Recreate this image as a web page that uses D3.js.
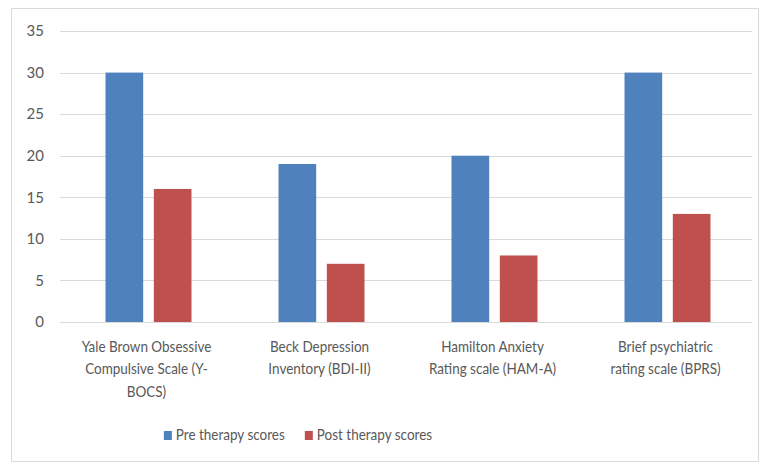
<!DOCTYPE html>
<html>
<head>
<meta charset="utf-8">
<script src="https://cdn.jsdelivr.net/npm/d3@7"></script>
<style>
  body { margin: 0; background: #fff; }
  text { font-family: Lato, "Liberation Sans", Arial, sans-serif; fill: #595959; }
</style>
</head>
<body>
<svg id="chart"></svg>
<script>
// data
const categories = ["Y-BOCS", "BDI-II", "HAM-A", "BPRS"];
const categoryLines = [
    ["Yale Brown Obsessive", "Compulsive Scale (Y-", "BOCS)"],
    ["Beck Depression", "Inventory (BDI-II)"],
    ["Hamilton Anxiety", "Rating scale (HAM-A)"],
    ["Brief psychiatric", "rating scale (BPRS)"]
];
const seriesNames = ["Pre therapy scores", "Post therapy scores"];
const preScores = [30, 19, 20, 30];
const postScores = [16, 7, 8, 13];
const yTicks = [0, 5, 10, 15, 20, 25, 30, 35];

const width = 759, height = 462;
const margin = { top: 31, right: 7, bottom: 140, left: 60 };
const colors = ["#4f81bd", "#c0504d"];
const squeeze = 0.9; // narrows Lato toward the original's condensed face

const svg = d3.select("#chart").attr("width", width).attr("height", height);

// chart frame
svg.append("rect")
    .attr("x", 11.5).attr("y", 8.5)
    .attr("width", width - 12).attr("height", height - 9)
    .attr("fill", "none").attr("stroke", "#d9d9d9");

const x = d3.scaleBand()
    .domain(categories)
    .range([margin.left, width - margin.right]);

const xInner = d3.scaleBand()
    .domain(seriesNames)
    .range([0, 86])
    .paddingInner(0.22);

const y = d3.scaleLinear()
    .domain([0, 35])
    .range([322, margin.top]);

// gridlines
svg.append("g")
    .selectAll("line")
    .data(yTicks)
    .join("line")
    .attr("x1", margin.left).attr("x2", width - margin.right)
    .attr("y1", d => Math.round(y(d)) + 0.5).attr("y2", d => Math.round(y(d)) + 0.5)
    .attr("stroke", "#d9d9d9");

// y labels
svg.append("g")
    .selectAll("text")
    .data(yTicks)
    .join("text")
    .attr("x", 44)
    .attr("y", d => y(d))
    .attr("dy", "0.35em")
    .attr("text-anchor", "end")
    .style("font-size", "15px")
    .text(d => d);

// bars
const groups = svg.append("g")
    .selectAll("g")
    .data(categories)
    .join("g")
    .attr("transform", d => `translate(${x(d) + x.bandwidth() / 2 - 41}, 0)`);

groups.selectAll("rect")
    .data((d, i) => [
        { s: seriesNames[0], v: preScores[i], c: colors[0] },
        { s: seriesNames[1], v: postScores[i], c: colors[1] }
    ])
    .join("rect")
    .attr("x", d => xInner(d.s))
    .attr("width", xInner.bandwidth())
    .attr("y", d => y(d.v))
    .attr("height", d => y(0) - y(d.v))
    .attr("fill", d => d.c);

// category labels
const labels = svg.append("g")
    .selectAll("g")
    .data(categories)
    .join("g")
    .attr("transform", d => `translate(${x(d) + x.bandwidth() / 2}, 0) scale(${squeeze}, 1)`)
    .append("text")
    .attr("text-anchor", "middle")
    .style("font-size", "15px");

labels.each(function (d, i) {
    d3.select(this).selectAll("tspan")
        .data(categoryLines[i])
        .join("tspan")
        .attr("x", 0)
        .attr("y", (t, j) => 352 + j * 22.5)
        .text(t => t);
});

// legend, centred under the plot
const legend = svg.append("g");
const items = legend.selectAll("g")
    .data(seriesNames)
    .join("g");

items.append("rect")
    .attr("width", 8).attr("height", 9)
    .attr("y", 3)
    .attr("fill", (d, i) => colors[i]);

items.append("text")
    .attr("x", 12)
    .attr("y", 7)
    .attr("dy", "0.35em")
    .attr("transform", `translate(12, 0) scale(${squeeze}, 1) translate(-12, 0)`)
    .style("font-size", "15px")
    .text(d => d);

const itemW = items.nodes().map(n => {
    const t = d3.select(n).select("text").node();
    return 12 + t.getComputedTextLength() * squeeze;
});
const gap = 20;
const totalW = d3.sum(itemW) + gap;
let lx = 298 - totalW / 2;
items.attr("transform", (d, i) => {
    const t = `translate(${lx}, 428)`;
    lx += itemW[i] + gap;
    return t;
});
</script>
</body>
</html>
